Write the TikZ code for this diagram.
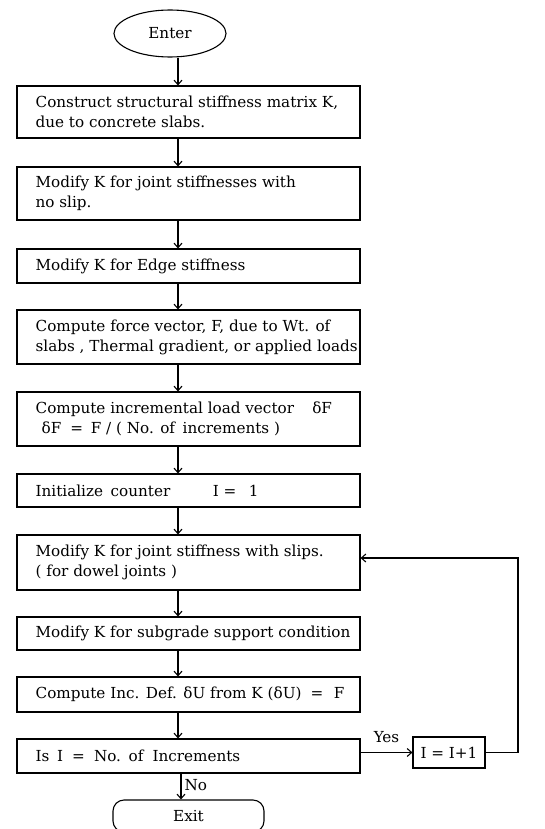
\documentclass[tikz,border=0pt]{standalone}
\usepackage{fontspec}
\setmainfont{DejaVu Serif}
\usetikzlibrary{arrows.meta,shapes.geometric}
\begin{document}
\begin{tikzpicture}[x=1pt,y=-1pt,
  stepbox/.style={draw,line width=1.1pt,minimum width=343pt,inner sep=0pt},
  txt/.style={anchor=west,align=left,inner sep=0pt,font=\fontsize{15.2}{20}\selectfont},
  lbl/.style={inner sep=0pt,font=\fontsize{15.2}{20}\selectfont},
  arr/.style={line width=1.1pt,-{Straight Barb[length=4.5pt,width=8pt]}},
  ln/.style={line width=1.1pt}]
\clip (0,0) rectangle (545,829);
\useasboundingbox (0,0) rectangle (545,829);
\coordinate (ax) at (178,0);
\node[draw,ellipse,line width=1.1pt,minimum width=112pt,minimum height=47pt,inner sep=0pt,font=\fontsize{15.2}{20}\selectfont] (enter) at (170,33.5) {Enter};
\node[stepbox,minimum height=52pt] (b1) at (188.5,112) {};
\node[stepbox,minimum height=53pt] (b2) at (188.5,193.5) {};
\node[stepbox,minimum height=34pt] (b3) at (188.5,266) {};
\node[stepbox,minimum height=54pt] (b4) at (188.5,337) {};
\node[stepbox,minimum height=54pt] (b5) at (188.5,419) {};
\node[stepbox,minimum height=33pt] (b6) at (188.5,490.5) {};
\node[stepbox,minimum height=55pt] (b7) at (188.5,562.5) {};
\node[stepbox,minimum height=33pt] (b8) at (188.5,633.5) {};
\node[stepbox,minimum height=35pt] (b9) at (188.5,694.5) {};
\node[stepbox,minimum height=34pt] (b10) at (188.5,756) {};
\node[draw,line width=1.1pt,minimum width=72pt,minimum height=31pt,inner sep=0pt,font=\fontsize{15.2}{20}\selectfont] (inc) at (449,752.5) {I = I+1};
\node[draw,line width=1.1pt,rounded corners=11pt,minimum width=151pt,minimum height=32pt,inner sep=0pt,font=\fontsize{15.2}{20}\selectfont] (exit) at (188.5,816) {Exit};
% texts
\node[txt] at ([xshift=19pt]b1.west) {Construct structural stiffness matrix K,\\due to concrete slabs.};
\node[txt] at ([xshift=19pt]b2.west) {Modify K for joint stiffnesses with\\no slip.};
\node[txt] at ([xshift=19pt]b3.west) {Modify K for Edge stiffness};
\node[txt] at ([xshift=19pt]b4.west) {Compute force vector, F, due to Wt. of\\slabs , Thermal gradient, or applied loads};
\node[txt] at ([xshift=19pt]b5.west) {Compute incremental load vector\hspace{1.2em}δF\\\hspace*{6pt}δF\hspace{0.6em}=\hspace{0.5em}F / ( No. of\hspace{0.5em}increments )};
\node[txt] at ([xshift=19pt]b6.west) {Initialize\hspace{0.5em}counter\hspace{2.8em}I = \hspace{0.5em}1};
\node[txt] at ([xshift=19pt]b7.west) {Modify K for joint stiffness with slips.\\( for dowel joints )};
\node[txt] at ([xshift=19pt]b8.west) {Modify K for subgrade support condition};
\node[txt] at ([xshift=19pt]b9.west) {Compute Inc. Def. δU from K (δU)\hspace{0.6em}=\hspace{0.7em}F};
\node[txt] at ([xshift=19pt]b10.west) {Is\hspace{0.5em}I\hspace{0.6em}=\hspace{0.6em}No.\hspace{0.5em}of\hspace{0.6em}Increments};
% connectors
\draw[arr] (enter.south -| ax) -- (b1.north -| ax);
\draw[arr] (b1.south -| ax) -- (b2.north -| ax);
\draw[arr] (b2.south -| ax) -- (b3.north -| ax);
\draw[arr] (b3.south -| ax) -- (b4.north -| ax);
\draw[arr] (b4.south -| ax) -- (b5.north -| ax);
\draw[arr] (b5.south -| ax) -- (b6.north -| ax);
\draw[arr] (b6.south -| ax) -- (b7.north -| ax);
\draw[arr] (b7.south -| ax) -- (b8.north -| ax);
\draw[arr] (b8.south -| ax) -- (b9.north -| ax);
\draw[arr] (b9.south -| ax) -- (b10.north -| ax);
\coordinate (nx) at (181,0);
\draw[arr] (b10.south -| nx) -- (exit.north -| nx) node[lbl,pos=0.45,right=3pt] {No};
\draw[arr] (b10.east |- inc.west) -- (inc.west) node[lbl,midway,above=9pt] {Yes};
\coordinate (lp) at (518,558);
\draw[arr] (inc.east) -| (lp) -- (b7.east |- lp);
\end{tikzpicture}
\end{document}
